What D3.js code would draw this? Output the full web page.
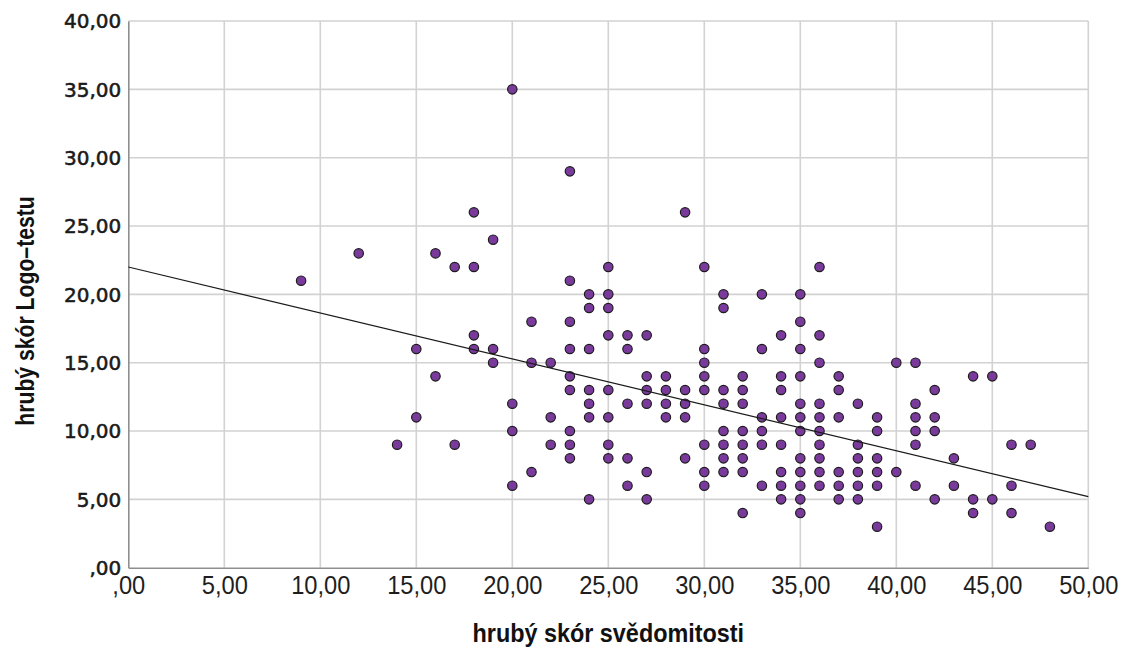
<!DOCTYPE html>
<html>
<head>
<meta charset="utf-8">
<script src="https://cdn.jsdelivr.net/npm/d3@7/dist/d3.min.js"></script>
<style>
  html, body { margin: 0; padding: 0; background: #ffffff; }
  svg { display: block; }
</style>
</head>
<body>
<svg id="chart" width="1133" height="652"></svg>
<script>
// Conscientiousness raw score (x) and Logo-test raw score (y), one entry per respondent,
// grouped by conscientiousness score.
const svedomitost = [
  9, 12, 14, 15, 15, 16, 16, 17, 17,
  18, 18, 18, 18, 19, 19, 19,
  20, 20, 20, 20, 21, 21, 21, 22, 22, 22,
  23, 23, 23, 23, 23, 23, 23, 23, 23,
  24, 24, 24, 24, 24, 24, 24,
  25, 25, 25, 25, 25, 25, 25, 25,
  26, 26, 26, 26, 26,
  27, 27, 27, 27, 27, 27,
  28, 28, 28, 28,
  29, 29, 29, 29, 29,
  30, 30, 30, 30, 30, 30, 30, 30,
  31, 31, 31, 31, 31, 31, 31, 31,
  32, 32, 32, 32, 32, 32, 32, 32,
  33, 33, 33, 33, 33, 33,
  34, 34, 34, 34, 34, 34, 34, 34,
  35, 35, 35, 35, 35, 35, 35, 35, 35, 35, 35, 35,
  36, 36, 36, 36, 36, 36, 36, 36, 36, 36,
  37, 37, 37, 37, 37, 37,
  38, 38, 38, 38, 38, 38,
  39, 39, 39, 39, 39, 39,
  40, 40,
  41, 41, 41, 41, 41, 41,
  42, 42, 42, 42,
  43, 43, 44, 44, 44, 45, 45, 46, 46, 46, 47, 48
];
const logoTest = [
  21, 23, 9, 16, 11, 23, 14, 22, 9,
  26, 22, 17, 16, 24, 16, 15,
  35, 12, 10, 6, 18, 15, 7, 15, 11, 9,
  29, 21, 18, 16, 14, 13, 10, 9, 8,
  20, 19, 16, 13, 12, 11, 5,
  22, 20, 19, 17, 13, 11, 9, 8,
  17, 16, 12, 8, 6,
  17, 14, 13, 12, 7, 5,
  14, 13, 12, 11,
  26, 13, 12, 11, 8,
  22, 16, 15, 14, 13, 9, 7, 6,
  20, 19, 13, 12, 10, 9, 8, 7,
  14, 13, 12, 10, 9, 8, 7, 4,
  20, 16, 11, 10, 9, 6,
  17, 14, 13, 11, 9, 7, 6, 5,
  20, 18, 16, 14, 12, 11, 10, 8, 7, 6, 5, 4,
  22, 17, 15, 12, 11, 10, 9, 8, 7, 6,
  14, 13, 11, 7, 6, 5,
  12, 9, 8, 7, 6, 5,
  11, 10, 8, 7, 6, 3,
  15, 7,
  15, 12, 11, 10, 9, 6,
  13, 11, 10, 5,
  8, 6, 14, 5, 4, 14, 5, 9, 6, 4, 9, 3
];

// Fitted linear trend: Logo-test = intercept + slope * conscientiousness
const fitIntercept = 22.0;
const fitSlope = -0.336;

const xTicks = [0, 5, 10, 15, 20, 25, 30, 35, 40, 45, 50];
const xTickLabels = [",00", "5,00", "10,00", "15,00", "20,00", "25,00", "30,00", "35,00", "40,00", "45,00", "50,00"];
const yTicks = [0, 5, 10, 15, 20, 25, 30, 35, 40];
const yTickLabels = [",00", "5,00", "10,00", "15,00", "20,00", "25,00", "30,00", "35,00", "40,00"];

const xTitle = "hrubý skór svědomitosti";
const yTitle = "hrubý skór Logo\u2013testu";

const svg = d3.select("#chart");
const plotLeft = 128.3, plotRight = 1088.3, plotTop = 21, plotBottom = 567.7;

const x = d3.scaleLinear().domain([0, 50]).range([plotLeft, plotRight]);
const y = d3.scaleLinear().domain([0, 40]).range([plotBottom, plotTop]);

// grid
const grid = svg.append("g");
grid.selectAll("line.v").data(xTicks.slice(1)).join("line")
  .attr("class", "v")
  .attr("x1", d => x(d)).attr("x2", d => x(d))
  .attr("y1", plotTop).attr("y2", plotBottom)
  .attr("stroke", "#d2d2d2").attr("stroke-width", 1.6);
grid.selectAll("line.h").data(yTicks.slice(1)).join("line")
  .attr("class", "h")
  .attr("x1", plotLeft).attr("x2", plotRight)
  .attr("y1", d => y(d)).attr("y2", d => y(d))
  .attr("stroke", "#d2d2d2").attr("stroke-width", 1.6);

// axes (no tick marks)
const xAxis = d3.axisBottom(x).tickValues(xTicks).tickSize(0).tickFormat((d, i) => xTickLabels[i]);
const yAxis = d3.axisLeft(y).tickValues(yTicks).tickSize(0).tickFormat((d, i) => yTickLabels[i]);

const gx = svg.append("g").attr("transform", `translate(0,${plotBottom})`).call(xAxis);
gx.select(".domain").attr("stroke", "#8f8f8f").attr("stroke-width", 1.6);
gx.selectAll(".tick text")
  .attr("y", 0).attr("dy", null)
  .attr("transform", "translate(0,26.5) scale(0.93,1)")
  .attr("font-family", "'Liberation Sans', Arial, sans-serif")
  .attr("font-size", 25.5)
  .attr("fill", "#1e1e1e")
  .attr("text-anchor", "middle");

const gy = svg.append("g").attr("transform", `translate(${plotLeft},0)`).call(yAxis);
gy.select(".domain").attr("stroke", "#8f8f8f").attr("stroke-width", 1.6);
gy.selectAll(".tick text")
  .attr("x", -7).attr("dy", "0.34em")
  .attr("font-family", "'DejaVu Sans', sans-serif")
  .attr("font-size", 20)
  .attr("fill", "#1a1a1a")
  .attr("stroke", "#1a1a1a").attr("stroke-width", 0.55)
  .attr("text-anchor", "end");

// points
const pts = svedomitost.map((v, i) => ({ sx: v, ly: logoTest[i] }));
svg.append("g").selectAll("circle").data(pts).join("circle")
  .attr("cx", d => x(d.sx))
  .attr("cy", d => y(d.ly))
  .attr("r", 4.7)
  .attr("fill", "#7a3a9c")
  .attr("stroke", "#1c1c1c")
  .attr("stroke-width", 1.2);

// fit line
const fit = d3.line().x(d => x(d)).y(d => y(fitIntercept + fitSlope * d));
svg.append("path").datum([0, 50])
  .attr("d", fit)
  .attr("fill", "none")
  .attr("stroke", "#1a1a1a")
  .attr("stroke-width", 1.2);

// axis titles
svg.append("text")
  .attr("transform", `translate(${(plotLeft + plotRight) / 2},641.5) scale(0.9,1)`)
  .attr("text-anchor", "middle")
  .attr("font-family", "'Liberation Sans', Arial, sans-serif")
  .attr("font-weight", "bold")
  .attr("font-size", 26)
  .attr("fill", "#111")
  .text(xTitle);

svg.append("text")
  .attr("transform", `translate(34,311) rotate(-90) scale(0.815,1)`)
  .attr("text-anchor", "middle")
  .attr("font-family", "'Liberation Sans', Arial, sans-serif")
  .attr("font-weight", "bold")
  .attr("font-size", 26)
  .attr("fill", "#111")
  .text(yTitle);
</script>
</body>
</html>
